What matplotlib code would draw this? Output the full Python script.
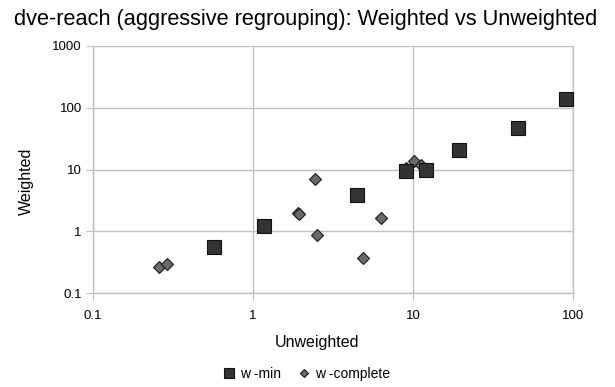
import matplotlib
matplotlib.use("Agg")
import matplotlib.pyplot as plt
from matplotlib.ticker import FixedLocator, FixedFormatter, NullLocator

plt.rcParams['font.family'] = ['Liberation Sans', 'DejaVu Sans']

# w-min series (Unweighted, Weighted)
wmin_x = [0.57, 1.17, 4.49, 9.1, 12.1, 19.3, 45.5, 90.8]
wmin_y = [0.55, 1.2, 3.8, 9.3, 9.8, 20.6, 47.4, 140]

# w-complete series
wcomp_x = [0.26, 0.29, 1.9, 1.95, 2.44, 2.52, 4.9, 6.34, 9.0, 10.2, 11.3]
wcomp_y = [0.265, 0.296, 2.0, 1.9, 7.07, 0.855, 0.366, 1.63, 10.5, 13.8, 11.7]

ticks = [0.1, 1, 10, 100, 1000]
tick_labels = ['0.1', '1', '10', '100', '1000']

W, H = 615, 387
fig = plt.figure(figsize=(6.15, 3.87), dpi=100)
ax = fig.add_axes([93/W, 1-293/H, (573-93)/W, (293-46)/H])

ax.set_xscale('log')
ax.set_yscale('log')
ax.set_xlim(0.1, 100)
ax.set_ylim(0.1, 1000)

grid_c = '#c0c0c0'
ax.xaxis.set_major_locator(FixedLocator(ticks[:4]))
ax.xaxis.set_major_formatter(FixedFormatter(tick_labels[:4]))
ax.yaxis.set_major_locator(FixedLocator(ticks))
ax.yaxis.set_major_formatter(FixedFormatter(tick_labels))
ax.xaxis.set_minor_locator(NullLocator())
ax.yaxis.set_minor_locator(NullLocator())
ax.grid(True, color=grid_c, linewidth=1.0)
ax.set_axisbelow(True)
ax.spines['top'].set_visible(False)
for s in ['left', 'bottom', 'right']:
    ax.spines[s].set_color(grid_c)
    ax.spines[s].set_linewidth(1.0)
ax.tick_params(axis='both', which='major', direction='out', length=5,
               color=grid_c, labelsize=9.5, labelcolor='black', pad=3)
ax.tick_params(axis='x', pad=7)

ax.plot(wcomp_x, wcomp_y, linestyle='none', marker='D', markersize=6,
        markerfacecolor='#6a6a6a', markeredgecolor='#1a1a1a', markeredgewidth=0.8,
        label='w -complete', zorder=3)
ax.plot(wmin_x, wmin_y, linestyle='none', marker='s', markersize=10,
        markerfacecolor='#333333', markeredgecolor='#111111', markeredgewidth=0.8,
        label='w -min', zorder=4, clip_on=False)

fig.text(306/W, 1-20/H, 'dve-reach (aggressive regrouping): Weighted vs Unweighted',
         ha='center', va='center', fontsize=15.7)
fig.text(316.7/W, 1-343/H, 'Unweighted', ha='center', va='center', fontsize=11.5)
fig.text(26.7/W, 1-181/H, 'Weighted', ha='center', va='center', fontsize=11.5,
         rotation=90)

h, l = ax.get_legend_handles_labels()
leg = fig.legend([h[1], h[0]], [l[1], l[0]], loc='center',
                 bbox_to_anchor=(306/W, 1-374/H), ncol=2, frameon=False,
                 fontsize=10, handletextpad=0.3, columnspacing=1.2, handlelength=1.0)
leg.legend_handles[0].set_markersize(7)
leg.legend_handles[1].set_markersize(4.5)

fig.savefig('out.png', dpi=100)
